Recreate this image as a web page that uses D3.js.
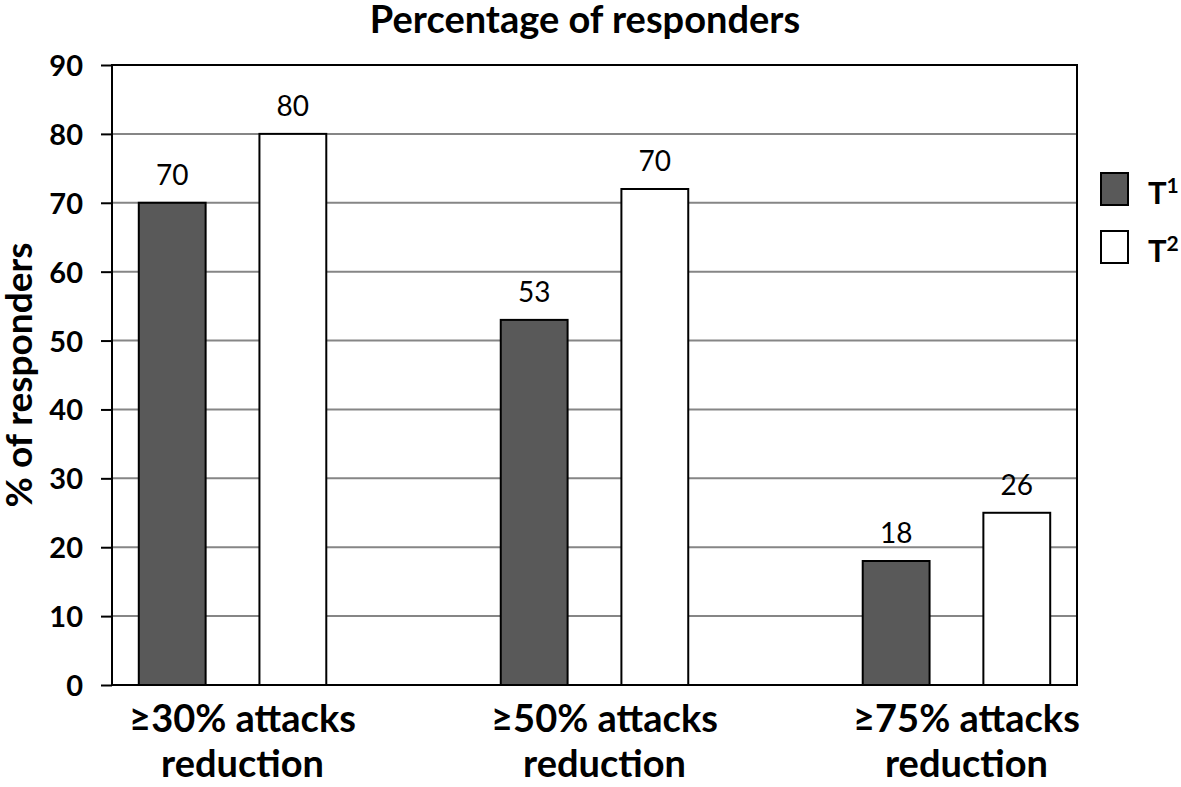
<!DOCTYPE html>
<html>
<head>
<meta charset="utf-8">
<script src="https://cdn.jsdelivr.net/npm/d3@7"></script>
<style>
  body { margin: 0; background: #fff; overflow: hidden; }
  svg { display: block; }
  text { font-family: Lato, "Open Sans", sans-serif; fill: #000; }
</style>
</head>
<body>
<svg id="chart"></svg>
<script>
// data
const categories = ["≥30% attacks|reduction", "≥50% attacks|reduction", "≥75% attacks|reduction"];
const seriesNames = ["T1", "T2"];
const t1Values = [70, 53, 18];
const t2Values = [80, 72, 25];
// printed labels (not always equal to bar heights in the original)
const t1Labels = ["70", "53", "18"];
const t2Labels = ["80", "70", "26"];
const yTicks = [0, 10, 20, 30, 40, 50, 60, 70, 80, 90];

const width = 1181, height = 787;
const margin = { top: 65, right: 104, bottom: 102, left: 112 };
const innerWidth = width - margin.left - margin.right;
const innerHeight = height - margin.top - margin.bottom;

const svg = d3.select("#chart").attr("width", width).attr("height", height);
const g = svg.append("g").attr("transform", `translate(${margin.left},${margin.top})`);

const data = categories.map((c, i) => ({
  cat: c,
  bars: [
    { key: "T1", value: t1Values[i], label: t1Labels[i] },
    { key: "T2", value: t2Values[i], label: t2Labels[i] }
  ]
}));

const x0 = d3.scaleBand().domain(categories).range([0, innerWidth])
  .paddingInner(0.482).paddingOuter(0.074);
const x1 = d3.scaleBand().domain(seriesNames).range([0, x0.bandwidth()])
  .paddingInner(0.446).paddingOuter(0);
const y = d3.scaleLinear().domain([0, 90]).range([innerHeight, 0]);
const color = { T1: "#595959", T2: "#ffffff" };

// grid lines
g.append("g")
  .selectAll("line")
  .data(yTicks.filter(d => d > 0 && d < 90))
  .join("line")
  .attr("x1", 0).attr("x2", innerWidth)
  .attr("y1", d => y(d)).attr("y2", d => y(d))
  .attr("stroke", "#868686").attr("stroke-width", 2);

// y axis
const yAxis = g.append("g")
  .call(d3.axisLeft(y).tickValues(yTicks).tickSize(11).tickPadding(18));
yAxis.select(".domain").remove();
yAxis.selectAll("line").attr("stroke", "#000").attr("stroke-width", 2);
yAxis.selectAll("text")
  .style("font-family", "Lato, sans-serif")
  .style("font-size", "29px").style("font-weight", "bold")
  .attr("dy", "0.36em");

// bars
const groups = g.selectAll(".grp").data(data).join("g")
  .attr("class", "grp")
  .attr("transform", d => `translate(${x0(d.cat)},0)`);

groups.selectAll("rect").data(d => d.bars).join("rect")
  .attr("x", d => x1(d.key))
  .attr("y", d => y(d.value))
  .attr("width", x1.bandwidth())
  .attr("height", d => innerHeight - y(d.value))
  .attr("fill", d => color[d.key])
  .attr("stroke", "#000").attr("stroke-width", 2);

groups.selectAll(".val").data(d => d.bars).join("text")
  .attr("class", "val")
  .attr("x", d => x1(d.key) + x1.bandwidth() / 2)
  .attr("y", d => y(d.value) - 18)
  .attr("text-anchor", "middle")
  .style("font-size", "28px")
  .text(d => d.label);

// frame: axis lines and border
g.append("rect")
  .attr("x", 0).attr("y", 0)
  .attr("width", innerWidth).attr("height", innerHeight)
  .attr("fill", "none").attr("stroke", "#000").attr("stroke-width", 2);

// x category labels
const xl = g.append("g");
categories.forEach(c => {
  const parts = c.split("|");
  const cx = x0(c) + x0.bandwidth() / 2 + 10;
  const t = xl.append("text")
    .attr("x", cx)
    .attr("y", innerHeight + 47)
    .attr("text-anchor", "middle")
    .style("font-size", "38px").style("font-weight", "bold");
  parts.forEach((p, i) => {
    t.append("tspan")
      .attr("x", cx)
      .attr("dy", i === 0 ? 0 : 45)
      .text(p);
  });
});

// title
svg.append("text")
  .attr("x", 585).attr("y", 33)
  .attr("text-anchor", "middle")
  .style("font-size", "38px").style("font-weight", "bold")
  .text("Percentage of responders");

// y axis title
svg.append("text")
  .attr("transform", `translate(32,${margin.top + innerHeight / 2}) rotate(-90)`)
  .attr("text-anchor", "middle")
  .style("font-size", "37px").style("font-weight", "bold")
  .text("% of responders");

// legend
const legend = svg.append("g").attr("transform", "translate(1101,173)");
seriesNames.forEach((s, i) => {
  const row = legend.append("g").attr("transform", `translate(0,${i * 58})`);
  row.append("rect")
    .attr("width", 27).attr("height", 32)
    .attr("fill", color[s]).attr("stroke", "#000").attr("stroke-width", 2);
  const t = row.append("text")
    .attr("x", 47).attr("y", 31)
    .style("font-size", "31px").style("font-weight", "bold");
  t.append("tspan").text("T");
  t.append("tspan").attr("dy", -11).style("font-size", "21px").text(s.slice(1));
});
</script>
</body>
</html>
